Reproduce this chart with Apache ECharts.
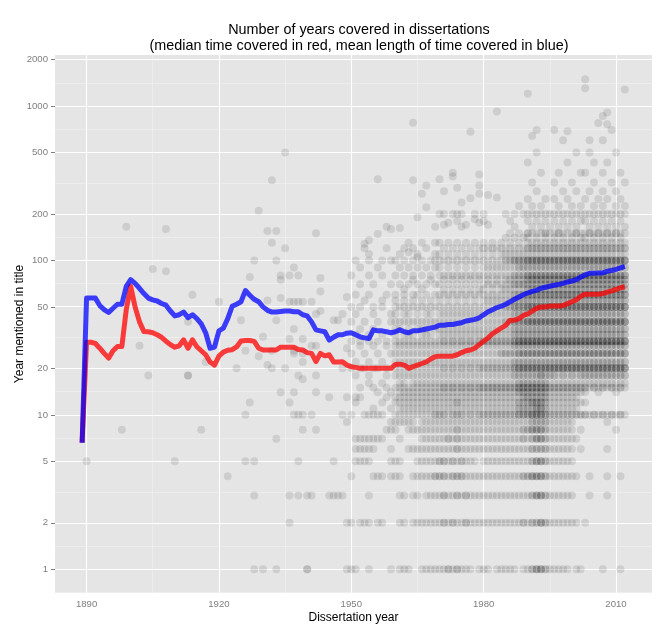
<!DOCTYPE html>
<html>
<head>
<meta charset="utf-8">
<script src="https://cdn.jsdelivr.net/npm/echarts@6/dist/echarts.min.js"></script>
<style>
  html, body { margin: 0; padding: 0; background: #fff; }
  #chart { width: 671px; height: 636px; }
</style>
</head>
<body>
<div id="chart"></div>
<script>
// yearly lines, first year 1889
var lineStartYear = 1889;
// mean length of time covered (blue)
var meanYears = [6.6,
  57, 57, 57, 51, 48, 46, 49, 52, 52, 68,
  75, 71, 66, 61, 57, 55.5, 54.6, 52.6, 51.3, 47,
  43.7, 44.5, 46.3, 42.6, 44.5, 42, 38.8, 34, 27, 27.5,
  35, 36.4, 42, 50.5, 52, 54, 63.8, 59.5, 56, 54,
  50, 47.5, 46.3, 46.3, 46.7, 47, 47, 46.5, 46.5, 44.5,
  43.7, 40, 35.5, 35, 34.5, 30.5, 31.8, 33, 33, 33.8,
  34, 33, 32, 31.5, 31.2, 35.5, 35, 35, 34.5, 34,
  34.5, 35.5, 34.5, 34, 35, 35, 35.5, 36, 36.5, 37,
  38, 38, 38.5, 38.5, 39, 39.5, 40.5, 41, 41.5, 42.5,
  44.5, 46.5, 48, 49.5, 50.5, 52, 54, 56, 58, 60,
  61.5, 63, 64, 66, 67, 68, 69, 70, 71, 72.5,
  73.5, 75, 78, 80.5, 82.5, 82.7, 82.8, 83, 85, 86,
  87.5, 89.5, 91.5];
// median time covered (red)
var medianYears = [6.6,
  29.5, 29.5, 29, 27, 25, 23.3, 26, 27.7, 27.7, 48,
  68, 50, 40, 34.6, 34.5, 34, 33, 31.8, 30, 28.5,
  27.4, 28, 30.6, 27, 30.6, 27.6, 26, 24.5, 22, 21,
  24, 25.5, 26.2, 26.4, 27.5, 30.1, 30.3, 30.3, 29.9, 27,
  26.3, 26.3, 26.3, 26.3, 27.4, 27.4, 27.4, 27.4, 26.5, 26.3,
  25.3, 25, 22.1, 25, 24.1, 24.5, 22, 22, 22.1, 21,
  20.5, 20.3, 20, 20, 20, 20, 20, 20, 20, 20,
  21.2, 21.3, 21, 20, 20.5, 21, 21.5, 22, 23, 23.8,
  24, 24, 24, 24, 24.5, 25.3, 26, 26.3, 27, 28.5,
  30, 31.5, 33.5, 35, 36.5, 38, 41, 41, 42, 44,
  45, 47, 49, 50, 50, 50.7, 50.7, 50.7, 51, 52.5,
  54, 55.5, 58.5, 60.4, 60.4, 60.4, 60.4, 61, 62.3, 63.5,
  65, 66.5, 67.5];

// single dissertations, [year, years covered]
var loosePoints = [
  [1890,5],[1898,8],[1899,165],[1902,28],[1904,18],[1905,88],[1908,85],[1908,160],[1910,5],
  [1913,18],[1913,18],[1913,40],[1914,60],[1916,8],[1917,22],[1920,54],[1922,4],[1924,20],
  [1925,41],[1926,10],[1926,26],[1926,5],[1927,12],[1927,78],[1928,100],[1928,5],[1928,3],
  [1928,1],[1929,210],[1929,24],[1930,1],[1930,32],[1931,155],[1931,55],[1931,21],[1932,330],
  [1932,130],[1932,26],[1932,20],[1933,155],[1933,100],[1933,41],[1933,7],[1933,1],[1934,80],
  [1934,75],[1934,57],[1934,14],[1935,500],[1935,120],[1935,20],[1936,80],[1936,54],[1936,31],
  [1936,12],[1936,3],[1936,2],[1937,90],[1937,54],[1937,36],[1937,26],[1937,25],[1937,14],
  [1937,10],[1938,80],[1938,54],[1938,18],[1938,10],[1938,5],[1938,3],[1939,54],[1939,31],
  [1939,25],[1939,22],[1939,17],[1939,10],[1939,8],[1940,1],[1940,1],[1940,3],[1941,54],
  [1941,28],[1941,10],[1941,3],[1942,150],[1942,45],[1942,28],[1942,18],[1942,14],[1942,8],
  [1943,77],[1943,63],[1943,47],[1945,13],[1945,3],[1946,41],[1946,5],[1946,3],[1947,41],
  [1947,3],[1948,45],[1948,20],[1948,10],[1948,3],[1949,58],[1949,27],[1949,2],[1949,1],
  [1949,13],[1949,9],
  [1953,128],[1954,135],[1956,148],[1956,335],[1958,165],[1959,160],[1961,162],[1963,113],
  [1964,780],[1964,330],[1965,105],[1965,190],[1966,270],[1967,305],[1967,221],[1969,165],
  [1970,335],[1970,200],[1971,280],[1971,200],[1971,170],[1972,175],[1973,370],[1973,350],
  [1973,200],[1974,295],[1974,200],[1974,180],[1975,237],[1975,200],[1975,165],[1976,170],
  [1977,680],[1977,253],[1978,200],[1978,185],[1979,360],[1979,305],[1979,270],[1979,175],
  [1980,200],[1980,180],[1981,265],[1981,170],[1983,920],[1983,255],
  [1990,1200],[1991,640],[1992,700],[1996,700],[1998,600],[1999,685],[2003,1490],[2003,1300],
  [2004,600],[2006,775],[2007,860],[2007,600],[2008,906],[2008,760],[2009,700],[2012,1280]];

// dense part: one string per value, one count per year from 1950 (base 36 digits)
// groups: 1950-59, 1960-69, 1970-79, 1980-84, 1985-89, 1990-95, 1996-2002, 2003-12
var rowStartYear = 1950;
var rowValues = [1, 2, 3, 4, 5, 6, 7, 8, 9, 10, 11, 12, 13, 14, 15, 16, 18, 20, 22, 25, 28, 30,
  33, 36, 40, 45, 50, 55, 60, 65, 70, 75, 80, 90, 100, 110, 120, 130, 140, 150, 165, 180, 200,
  225, 250, 280, 320, 370, 430, 500];
var rowCounts = [
  "1100100001 0111001111 1121211101 11011 11101 123321 1111011 0000100010",
  "1011101100 0110111111 1212112111 11111 11112 122321 1111110 1000000000",
  "0000100000 0110110111 1211212111 11111 11111 123321 1111100 0100010000",
  "1000011101 1100111112 2212221111 11111 11112 233321 1111110 0100010010",
  "0111100001 1100011111 2212121110 11111 11111 123321 1111100 0000000000",
  "0111110001 0001111111 1111211111 11111 11111 122221 1111101 0000010000",
  "0111111100 0100001111 1121211111 11111 11112 123321 1111110 0000000000",
  "0000000011 1001111111 1111211111 11111 11112 233321 1111101 0000000100",
  "0000000001 1111101111 1111111111 11111 11111 122221 1111100 0000010000",
  "1001111100 1111111112 2212221212 22222 22233 344432 2222222 2121212121",
  "0000010001 0111111111 1111111111 11111 11122 223321 1111110 0000000000",
  "0100000100 1111111111 1111211111 11111 11122 233321 1111111 1000000000",
  "0110000010 1111111111 1111111111 11111 11112 222221 1111110 0000000000",
  "0000001001 0111111111 1111111111 11111 11122 222221 1111111 1001000100",
  "0010010010 1111111111 1212121212 22222 22233 333332 2222222 2121212121",
  "0000100100 0110111111 1111111111 11111 11122 222221 1111111 1111111111",
  "0100100010 1111111111 1111111111 11111 11222 222322 2121212 2222222222",
  "1011011010 1111111111 1212121212 22222 22344 444444 4444444 4444444444",
  "0100100100 1111111111 1111111111 11111 11222 222222 2222222 2222222222",
  "1001001001 1111111111 1111111111 11112 22233 333333 3333333 3333333333",
  "0010010010 1111111111 1111111111 11111 11222 222222 2222222 2222222222",
  "1010101010 1111111111 1212121212 22222 22344 444444 4444444 4444444444",
  "0100100100 1011101110 1111111111 11111 11222 222222 2222222 2222222222",
  "0010010000 1101011101 1111111111 11111 11222 222222 2222222 2222222222",
  "1001001001 1111111111 1111111111 11111 22333 444444 4444444 4444444444",
  "0100010001 1011010110 1111111111 11111 11222 222222 2222222 2222222222",
  "1010010100 1111111111 1111111111 11111 22333 444444 4444444 4444444444",
  "0001000100 1010101010 1010101010 11111 11222 222222 2222222 2222222222",
  "0100100010 1010110101 1111111111 11111 11222 333333 3333333 3333333333",
  "0000000000 0010001000 0101010101 10101 11111 222222 2222222 2222222222",
  "0010010001 0101010101 1010101010 11111 11222 222222 2222222 2222222222",
  "0000000000 0000100010 0101010101 01010 11111 222222 2222222 2222222222",
  "1000100100 1010101010 1111111111 11111 11222 333333 3333333 3333333333",
  "0010001000 0101010101 1010101010 11111 11122 222222 2222222 2222222222",
  "0100100101 1010101011 1111111111 11111 22333 444444 4444444 4444444444",
  "0000100000 0100010001 1010101010 10101 11111 111111 1111111 1111111111",
  "0001000010 0010100100 0101010101 11111 11111 222222 2222222 2222222222",
  "0000000000 0001001001 1010101010 10101 01010 111111 1111111 1111111111",
  "0000000000 0000000000 0000000000 00000 10101 101010 1010101 1010101010",
  "0000000000 0000000000 0000000000 00000 01010 211121 1211121 1212121211",
  "0000000000 0000000000 0000000000 00000 00100 010101 0101010 0101010101",
  "0000000000 0000000000 0000000000 00000 01000 101010 1010101 1010101010",
  "0000000000 0000000000 0000000000 00000 10101 111111 1111111 1111111111",
  "0000000000 0000000000 0000000000 00000 00010 010100 0100101 0010100101",
  "0000000000 0000000000 0000000000 00000 00000 100010 1001000 1001010010",
  "0000000000 0000000000 0000000000 00000 00000 001000 0010010 0100100100",
  "0000000000 0000000000 0000000000 00000 00000 010000 1000100 0010001001",
  "0000000000 0000000000 0000000000 00000 00000 000100 0100001 1000100010",
  "0000000000 0000000000 0000000000 00000 00000 100000 0001000 0010010000",
  "0000000000 0000000000 0000000000 00000 00000 001000 0000010 0100000100"];

var yBreaks = [1, 2, 5, 10, 20, 50, 100, 200, 500, 1000, 2000];
var xBreaks = [1890, 1920, 1950, 1980, 2010];
var xMinorBreaks = [1905, 1935, 1965, 1995];

var DOT_ALPHA = 0.1;
var FONT = "'Liberation Sans', Arial, sans-serif";

// build scatter points
var dots = [];
function addDot(yr, v, n) {
  dots.push({ value: [yr, Math.log10(v)], itemStyle: { opacity: 1 - Math.pow(1 - DOT_ALPHA, n) } });
}
loosePoints.forEach(function (p) { addDot(p[0], p[1], 1); });
rowValues.forEach(function (v, i) {
  var s = rowCounts[i].replace(/ /g, '');
  for (var j = 0; j < s.length; j++) {
    var n = parseInt(s[j], 36);
    if (n > 0) addDot(rowStartYear + j, v, n);
  }
});

var meanData = meanYears.map(function (v, i) { return [lineStartYear + i, Math.log10(v)]; });
var medianData = medianYears.map(function (v, i) { return [lineStartYear + i, Math.log10(v)]; });

// grid lines (ggplot style: major white, minor at log midpoints)
var yMajor = yBreaks.map(function (b) { return Math.log10(b); });
var yMinor = [yMajor[0] - (yMajor[1] - yMajor[0]) / 2];
for (var k = 0; k + 1 < yMajor.length; k++) yMinor.push((yMajor[k] + yMajor[k + 1]) / 2);
var gridLines = [];
yMinor.forEach(function (v) { gridLines.push({ yAxis: v, lineStyle: { color: '#F2F2F2', width: 0.6, type: 'solid' } }); });
xMinorBreaks.forEach(function (v) { gridLines.push({ xAxis: v, lineStyle: { color: '#F2F2F2', width: 0.6, type: 'solid' } }); });
yMajor.forEach(function (v) { gridLines.push({ yAxis: v, lineStyle: { color: '#FFFFFF', width: 1.1, type: 'solid' } }); });
xBreaks.forEach(function (v) { gridLines.push({ xAxis: v, lineStyle: { color: '#FFFFFF', width: 1.1, type: 'solid' } }); });

var myChart = echarts.init(document.getElementById('chart'));
var option = {
  animation: false,
  title: {
    text: 'Number of years covered in dissertations\n(median time covered in red, mean length of time covered in blue)',
    left: 354,
    top: 17,
    textAlign: 'center',
    textStyle: { fontFamily: FONT, fontSize: 14.4, fontWeight: 'normal', color: '#000', lineHeight: 16 }
  },
  grid: {
    left: 55, right: 19, top: 55, bottom: 43,
    show: true, backgroundColor: '#E5E5E5', borderWidth: 0,
    containLabel: false, outerBoundsMode: 'none'
  },
  xAxis: {
    type: 'value', min: 1882.85, max: 2018.15,
    name: 'Dissertation year', nameLocation: 'middle', nameGap: 19, nameMoveOverlap: false,
    nameTextStyle: { fontFamily: FONT, fontSize: 12, color: '#000' },
    axisLine: { show: false },
    splitLine: { show: false },
    axisTick: { show: true, length: 4, lineStyle: { color: '#7F7F7F' }, customValues: xBreaks },
    axisLabel: {
      customValues: xBreaks, color: '#7F7F7F', fontSize: 9.6, fontFamily: FONT, margin: 6,
      formatter: function (v) { return String(v); }
    }
  },
  yAxis: {
    type: 'value', min: -0.1535, max: 3.33,
    name: 'Year mentioned in title', nameLocation: 'middle', nameGap: 29, nameMoveOverlap: false,
    nameTextStyle: { fontFamily: FONT, fontSize: 12, color: '#000' },
    axisLine: { show: false },
    splitLine: { show: false },
    axisTick: { show: true, length: 4, lineStyle: { color: '#7F7F7F' }, customValues: yMajor },
    axisLabel: {
      customValues: yMajor, color: '#7F7F7F', fontSize: 9.6, fontFamily: FONT, margin: 7,
      formatter: function (v) { return String(Math.round(Math.pow(10, v))); }
    }
  },
  series: [
    {
      type: 'line', data: [], z: 1, silent: true,
      markLine: { silent: true, z: 1, symbol: ['none', 'none'], label: { show: false }, animation: false, data: gridLines }
    },
    {
      type: 'scatter', data: dots, symbolSize: 8, z: 2, silent: true,
      progressive: 0, large: false,
      itemStyle: { color: '#000' }
    },
    {
      type: 'line', data: medianData, symbol: 'none', z: 3, silent: true,
      itemStyle: { color: 'rgba(255,0,0,0.75)' },
      lineStyle: { color: 'rgba(255,0,0,0.75)', width: 5, join: 'round', cap: 'butt' }
    },
    {
      type: 'line', data: meanData, symbol: 'none', z: 3, silent: true,
      itemStyle: { color: 'rgba(0,0,255,0.75)' },
      lineStyle: { color: 'rgba(0,0,255,0.75)', width: 5, join: 'round', cap: 'butt' }
    }
  ]
};
myChart.setOption(option);
</script>
</body>
</html>
